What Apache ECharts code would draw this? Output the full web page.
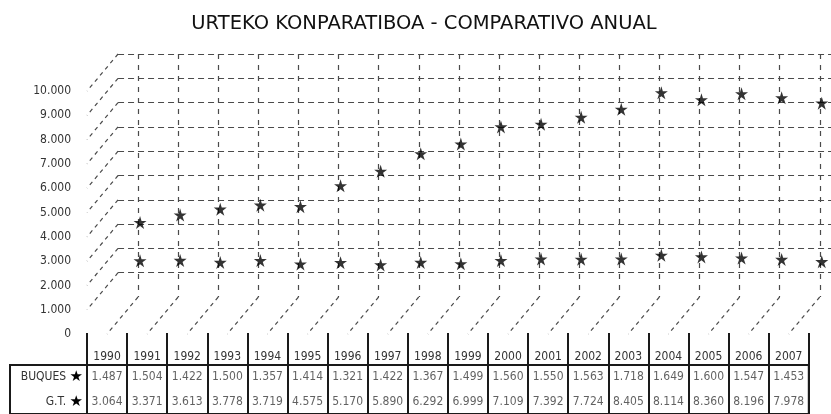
<!DOCTYPE html>
<html>
<head>
<meta charset="utf-8">
<script src="https://cdn.jsdelivr.net/npm/echarts@6/dist/echarts.min.js"></script>
<style>
  html, body { margin: 0; padding: 0; background: #fff; }
  #chart { width: 831px; height: 414px; }
</style>
</head>
<body>
<div id="chart"></div>
<script>
// Annual figures
const years = ['1990', '1991', '1992', '1993', '1994', '1995', '1996', '1997', '1998',
               '1999', '2000', '2001', '2002', '2003', '2004', '2005', '2006', '2007'];
const buques = [1487, 1504, 1422, 1500, 1357, 1414, 1321, 1422, 1367,
                1499, 1560, 1550, 1563, 1718, 1649, 1600, 1547, 1453];
const gt = [3064, 3371, 3613, 3778, 3719, 4575, 5170, 5890, 6292,
            6999, 7109, 7392, 7724, 8405, 8114, 8360, 8196, 7978];
const rowNames = ['BUQUES', 'G.T.'];
const valueMin = 0;
const valueMax = 10000;
const valueStep = 1000;

// Thousands with a dot: 10000 -> "10.000"
function fmt(n) {
  return String(n).replace(/\B(?=(\d{3})+(?!\d))/g, '.');
}

// Layout of the pseudo-3D box
const FONT = 'DejaVu Sans Condensed';
const INK = '#1a1a1a';
const DASH = '#4a4a4a';
const colW = 40.1;                 // width of one year column
const tableLeft = 87;
const depth = [31, 37];            // offset from front edge to back wall
const wallTop = 54, wallH = 243;   // back wall, value axis span
const starLeft = tableLeft + colW / 2 + depth[0];

const starPath = 'path://M50,2 L61,37 L98,37 L68,59 L80,95 L50,73 L20,95 L32,59 L2,37 L39,37 Z';

const tickValues = [];
for (let v = valueMin + valueStep; v <= valueMax; v += valueStep) tickValues.push(v);

const chart = echarts.init(document.getElementById('chart'), null, { renderer: 'canvas' });

const hidden = { show: false };

const option = {
  animation: false,
  backgroundColor: '#ffffff',
  title: {
    text: 'URTEKO KONPARATIBOA - COMPARATIVO ANUAL',
    left: 419,
    textAlign: 'center',
    top: 9,
    textStyle: { fontFamily: 'DejaVu Sans', fontSize: 19.5, fontWeight: 'normal', color: '#111' }
  },
  grid: [
    // 0: back wall (horizontal dashed lines)
    { left: starLeft - 20, right: 0, top: wallTop, height: wallH },
    // 1: plotting plane for the markers and vertical drop lines
    { left: starLeft, width: colW * (years.length - 1), top: wallTop, height: wallH },
    // 2: front edge carrying the value labels
    { left: tableLeft + 1, width: 1, top: wallTop + depth[1], height: wallH },
    // 3: table column rules (from floor edge downward)
    { left: tableLeft, width: colW * years.length, top: wallTop + wallH + depth[1] - 1, height: 120 },
    // 4: table body
    { left: tableLeft, width: colW * years.length, top: 365, height: 54,
      show: true, borderColor: INK, borderWidth: 2, backgroundColor: 'transparent' },
    // 5: row-name box
    { left: 10, width: tableLeft - 10, top: 365, height: 54,
      show: true, borderColor: INK, borderWidth: 2, backgroundColor: 'transparent' }
  ],
  xAxis: [
    { gridIndex: 0, type: 'value', min: 0, max: 1, show: false },
    { gridIndex: 1, type: 'value', min: 0, max: years.length - 1, interval: 1,
      axisLine: hidden, axisTick: hidden, axisLabel: hidden,
      splitLine: { show: true, lineStyle: { color: DASH, width: 1.2, type: [5, 6] } } },
    { gridIndex: 2, type: 'value', show: false },
    { gridIndex: 3, type: 'category', data: years, boundaryGap: true,
      axisLine: hidden, axisTick: hidden, axisLabel: hidden,
      splitLine: { show: true, interval: 0, lineStyle: { color: INK, width: 2, type: 'solid' } } },
    { gridIndex: 4, type: 'category', data: years, boundaryGap: true, position: 'top',
      axisLine: hidden, axisTick: hidden,
      axisLabel: { interval: 0, margin: 2, fontFamily: FONT, fontSize: 12, color: '#333' } },
    { gridIndex: 5, type: 'value', show: false }
  ],
  yAxis: [
    { gridIndex: 0, type: 'value', min: valueMin, max: valueMax, interval: valueStep,
      axisLine: hidden, axisTick: hidden, axisLabel: hidden,
      splitLine: { show: true, showMinLine: false,
                   lineStyle: { color: DASH, width: 1.2, type: [6, 4] } } },
    { gridIndex: 1, type: 'value', min: valueMin, max: valueMax, interval: valueStep, show: false },
    { gridIndex: 2, type: 'value', min: valueMin, max: valueMax, interval: valueStep,
      axisLine: hidden, axisTick: hidden, splitLine: hidden,
      axisLabel: { margin: 17, fontFamily: FONT, fontSize: 12, color: '#333',
                   formatter: v => fmt(v) } },
    { gridIndex: 3, type: 'value', show: false },
    { gridIndex: 4, type: 'category', data: rowNames, inverse: true,
      axisLine: hidden, axisTick: hidden,
      axisLabel: { margin: 4, fontFamily: FONT, fontSize: 12, color: '#333',
                   formatter: v => v + ' {s|★}',
                   rich: { s: { fontSize: 15, color: '#000', fontFamily: 'DejaVu Sans' } } } },
    { gridIndex: 5, type: 'value', show: false }
  ],
  series: [
    // Side-wall diagonals joining the front labels to the back wall lines
    {
      type: 'custom', xAxisIndex: 0, yAxisIndex: 0, silent: true, clip: false,
      data: tickValues.map(v => [0, v]),
      renderItem: (params, api) => {
        const p = api.coord([api.value(0), api.value(1)]);
        return {
          type: 'line',
          shape: { x1: p[0], y1: p[1], x2: p[0] - depth[0], y2: p[1] + depth[1] },
          style: { stroke: DASH, lineWidth: 1.2, lineDash: [4, 4] }
        };
      }
    },
    // Floor diagonals from each drop line to its table column
    {
      type: 'custom', xAxisIndex: 1, yAxisIndex: 1, silent: true, clip: false,
      data: years.map((y, i) => [i, valueMin]),
      renderItem: (params, api) => {
        const p = api.coord([api.value(0), api.value(1)]);
        return {
          type: 'line',
          shape: { x1: p[0], y1: p[1], x2: p[0] - depth[0], y2: p[1] + depth[1] },
          style: { stroke: DASH, lineWidth: 1.2, lineDash: [4, 4] }
        };
      }
    },
    {
      name: 'G.T.', type: 'scatter', xAxisIndex: 1, yAxisIndex: 1,
      symbol: starPath, symbolSize: 13, symbolOffset: [2, 0],
      itemStyle: { color: '#000' },
      data: gt.map((v, i) => [i, v])
    },
    {
      name: 'BUQUES', type: 'scatter', xAxisIndex: 1, yAxisIndex: 1,
      symbol: starPath, symbolSize: 13, symbolOffset: [2, 0],
      itemStyle: { color: '#000' },
      data: buques.map((v, i) => [i, v])
    },
    // Data table rows
    {
      type: 'scatter', xAxisIndex: 4, yAxisIndex: 4, symbolSize: 0, silent: true,
      data: buques.map((v, i) => [years[i], rowNames[0], v]),
      label: { show: true, position: 'inside', fontFamily: FONT, fontSize: 12, color: '#3a3a3a',
               formatter: p => fmt(p.value[2]) }
    },
    {
      type: 'scatter', xAxisIndex: 4, yAxisIndex: 4, symbolSize: 0, silent: true,
      data: gt.map((v, i) => [years[i], rowNames[1], v]),
      label: { show: true, position: 'inside', fontFamily: FONT, fontSize: 12, color: '#3a3a3a',
               formatter: p => fmt(p.value[2]) }
    }
  ]
};

chart.setOption(option);
</script>
</body>
</html>
